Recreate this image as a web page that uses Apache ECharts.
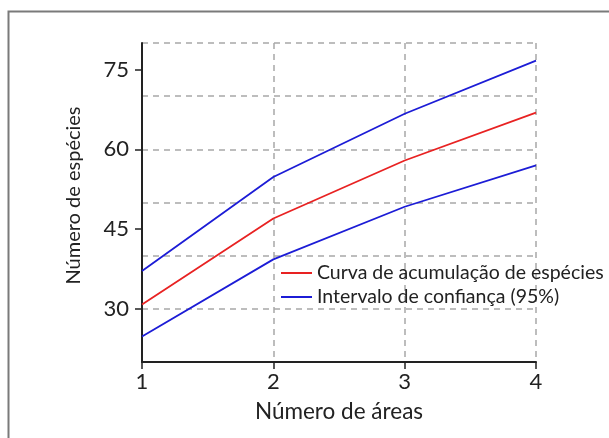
<!DOCTYPE html>
<html>
<head>
<meta charset="utf-8">
<script src="https://cdn.jsdelivr.net/npm/echarts@6/dist/echarts.min.js"></script>
<style>
  html, body { margin: 0; padding: 0; background: #fff; }
</style>
</head>
<body>
<div id="chart" style="width: 609px; height: 438px"></div>
<script>
const xValues = [1, 2, 3, 4];
const curve = [30.8, 47.0, 57.9, 66.9];
const upper = [37.1, 54.8, 66.7, 76.7];
const lower = [24.8, 39.3, 49.2, 57.0];
const yTickLabels = [30, 45, 60, 75];
const curveName = 'Curva de acumulação de espécies';
const ciName = 'Intervalo de confiança (95%)';

const font = 'Lato';
const toPairs = (vals) => xValues.map((x, i) => [x, vals[i]]);

const myChart = echarts.init(document.getElementById('chart'));
const gridLine = {
  show: true,
  lineStyle: { color: '#a8a8a8', type: [6, 5], width: 1.5 }
};
const option = {
  backgroundColor: '#fff',
  animation: false,
  graphic: [
    {
      type: 'rect',
      shape: { x: 8.5, y: 11.5, width: 640, height: 460 },
      style: { fill: 'none', stroke: '#7a7a7a', lineWidth: 2 }
    }
  ],
  grid: { left: 142, right: 73, top: 43, bottom: 76 },
  legend: {
    orient: 'vertical',
    left: 276,
    top: 258,
    itemGap: 4,
    itemWidth: 31,
    itemHeight: 2,
    icon: 'rect',
    textStyle: { fontFamily: font, fontSize: 19.5, color: '#222' },
    data: [curveName, ciName]
  },
  xAxis: {
    type: 'value',
    min: 1,
    max: 4,
    interval: 1,
    name: 'Número de áreas',
    nameLocation: 'middle',
    nameGap: 38,
    nameTextStyle: { fontFamily: font, fontSize: 22.5, color: '#222' },
    axisLine: { lineStyle: { color: '#222', width: 2 } },
    axisTick: { show: true, length: 7, lineStyle: { color: '#222', width: 1.5 } },
    axisLabel: { fontFamily: font, fontSize: 22, color: '#222', margin: 9 },
    splitLine: gridLine
  },
  yAxis: [
    {
      type: 'value',
      min: 20,
      max: 80,
      interval: 10,
      name: 'Número de espécies',
      nameLocation: 'middle',
      nameGap: 58,
      nameTextStyle: { fontFamily: font, fontSize: 20, color: '#222', padding: [0, 0, 0, 14] },
      axisLine: { show: true, lineStyle: { color: '#222', width: 2 } },
      axisTick: {
        show: true,
        length: 7,
        customValues: yTickLabels,
        lineStyle: { color: '#222', width: 1.5 }
      },
      axisLabel: {
        fontFamily: font,
        fontSize: 22,
        color: '#222',
        margin: 13,
        customValues: yTickLabels
      },
      splitLine: { show: false }
    },
    {
      // only draws the dashed grid every 10 units
      type: 'value',
      min: 20,
      max: 80,
      interval: 10,
      position: 'right',
      axisLine: { show: false },
      axisTick: { show: false },
      axisLabel: { show: false },
      splitLine: gridLine
    }
  ],
  series: [
    {
      name: curveName,
      type: 'line',
      symbol: 'none',
      color: '#e82222',
      lineStyle: { width: 1.8 },
      data: toPairs(curve)
    },
    {
      name: ciName,
      type: 'line',
      symbol: 'none',
      color: '#1c1cd6',
      lineStyle: { width: 1.8 },
      data: toPairs(upper)
    },
    {
      name: ciName,
      type: 'line',
      symbol: 'none',
      color: '#1c1cd6',
      lineStyle: { width: 1.8 },
      data: toPairs(lower)
    }
  ]
};
myChart.setOption(option);
</script>
</body>
</html>
